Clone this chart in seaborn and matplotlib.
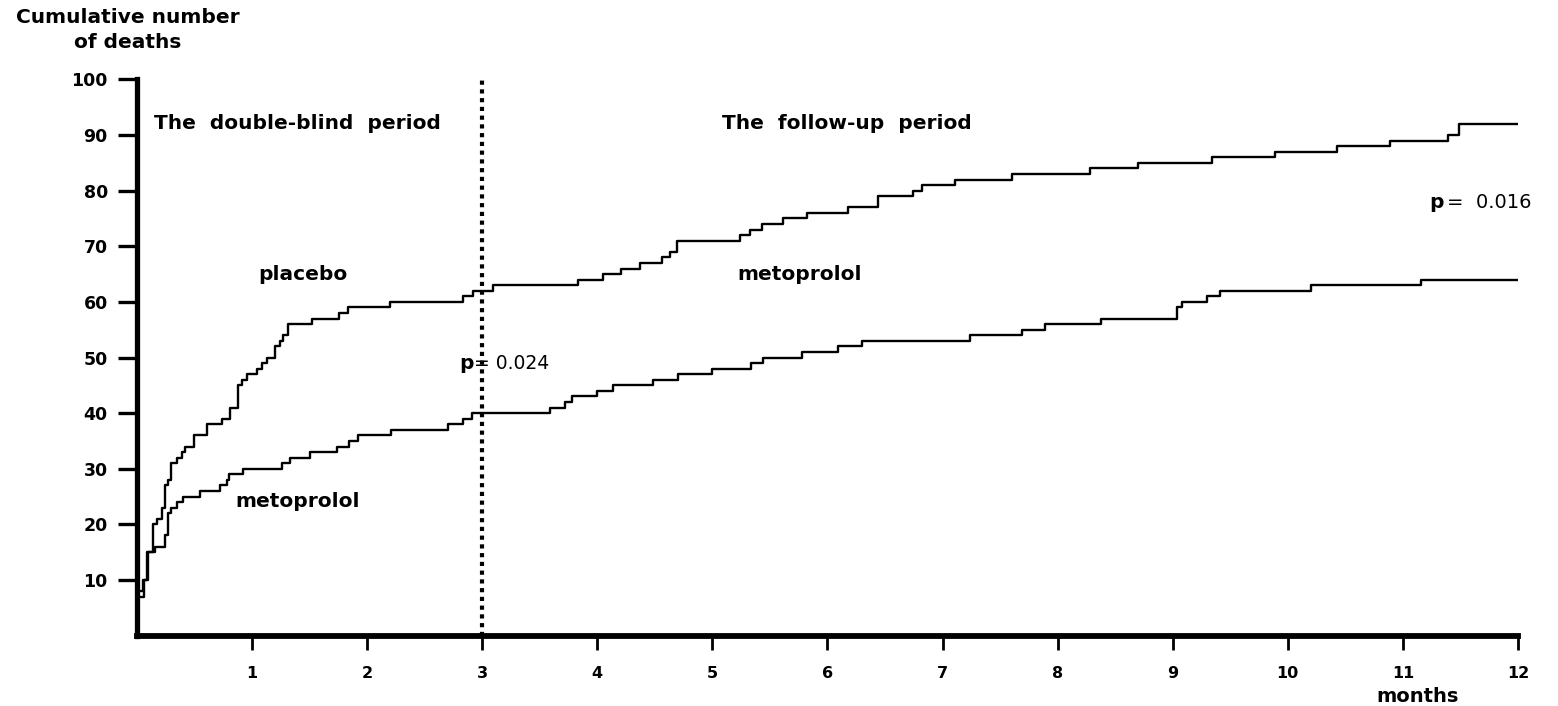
import matplotlib
matplotlib.use("Agg")
import matplotlib.pyplot as plt
import seaborn as sns
import pandas as pd

# ---- data ----
placebo_months = [0, 0.01, 0.05, 0.09, 0.14, 0.17, 0.22, 0.24, 0.27, 0.30, 0.35, 0.39, 0.42,
                  0.50, 0.61, 0.74, 0.81, 0.88, 0.91, 0.96, 1.04, 1.09, 1.13, 1.20, 1.24,
                  1.27, 1.31, 1.52, 1.76, 1.83, 2.20, 2.83, 2.92, 3.09, 3.83, 4.05, 4.21,
                  4.37, 4.56, 4.63, 4.69, 5.24, 5.33, 5.43, 5.61, 5.82, 6.18, 6.44, 6.74,
                  6.82, 7.11, 7.60, 8.28, 8.70, 9.34, 9.89, 10.43, 10.89, 11.39, 11.49, 12.0]
placebo_deaths = [0, 8, 10, 15, 20, 21, 23, 27, 28, 31, 32, 33, 34,
                  36, 38, 39, 41, 45, 46, 47, 48, 49, 50, 52, 53,
                  54, 56, 57, 58, 59, 60, 61, 62, 63, 64, 65, 66,
                  67, 68, 69, 71, 72, 73, 74, 75, 76, 77, 79, 80,
                  81, 82, 83, 84, 85, 86, 87, 88, 89, 90, 92, 92]

metoprolol_months = [0, 0.01, 0.06, 0.10, 0.16, 0.24, 0.27, 0.30, 0.35, 0.40, 0.55, 0.72,
                     0.78, 0.80, 0.92, 1.26, 1.33, 1.50, 1.74, 1.84, 1.92, 2.21, 2.70,
                     2.83, 2.91, 3.59, 3.72, 3.78, 4.00, 4.14, 4.48, 4.70, 5.00, 5.34,
                     5.44, 5.78, 6.09, 6.30, 7.24, 7.69, 7.89, 8.38, 9.04, 9.08, 9.30,
                     9.41, 10.20, 11.16, 12.0]
metoprolol_deaths = [0, 7, 10, 15, 16, 18, 22, 23, 24, 25, 26, 27,
                     28, 29, 30, 31, 32, 33, 34, 35, 36, 37, 38,
                     39, 40, 41, 42, 43, 44, 45, 46, 47, 48, 49,
                     50, 51, 52, 53, 54, 55, 56, 57, 59, 60, 61,
                     62, 63, 64, 64]

x_ticks = [1, 2, 3, 4, 5, 6, 7, 8, 9, 10, 11, 12]
y_ticks = [10, 20, 30, 40, 50, 60, 70, 80, 90, 100]

df = pd.concat([
    pd.DataFrame({"month": placebo_months, "deaths": placebo_deaths, "group": "placebo"}),
    pd.DataFrame({"month": metoprolol_months, "deaths": metoprolol_deaths, "group": "metoprolol"}),
], ignore_index=True)

sns.set_style("ticks")
plt.rcParams["font.family"] = ["DejaVu Sans"]
for k in ["text.color", "axes.edgecolor", "xtick.color", "ytick.color", "axes.labelcolor"]:
    plt.rcParams[k] = "black"

fig = plt.figure(figsize=(15.58, 7.06), dpi=100)
ax = fig.add_axes([0.0879, 0.0997, 0.8864, 0.7878])

sns.lineplot(data=df, x="month", y="deaths", hue="group",
             palette={"placebo": "black", "metoprolol": "black"},
             estimator=None, sort=False, legend=False,
             drawstyle="steps-post", linewidth=1.7, ax=ax)

ax.set_xlim(0, 12)
ax.set_ylim(0, 100)

# dotted separator at 3 months
ax.axvline(3, ymin=0, ymax=1, color="black", lw=3, linestyle=(0, (1, 1.1)),
           dash_capstyle="butt")

# spines
for s in ["top", "right"]:
    ax.spines[s].set_visible(False)
ax.spines["left"].set_linewidth(3.8)
ax.spines["bottom"].set_linewidth(4.2)
ax.spines["left"].set_capstyle("projecting")
ax.spines["bottom"].set_capstyle("projecting")

ax.set_xticks(x_ticks)
ax.set_xticklabels([str(t) for t in x_ticks], fontsize=11.5, fontweight="bold")
ax.set_yticks(y_ticks)
ax.set_yticklabels([str(t) for t in y_ticks], fontsize=12.5, fontweight="bold")
ax.tick_params(axis="x", direction="out", length=10, width=2, pad=12)
ax.tick_params(axis="y", direction="out", length=14, width=2.4, pad=7)
ax.set_xlabel("")
ax.set_ylabel("")

# annotations
txt = dict(fontsize=14.5, fontweight="bold", color="black")
ax.text(0.15, 92, "The  double-blind  period", va="center", ha="left", **txt)
ax.text(5.08, 92, "The  follow-up  period", va="center", ha="left", **txt)
ax.text(1.44, 65, "placebo", va="center", ha="center", **txt)
ax.text(1.40, 24.2, "metoprolol", va="center", ha="center", **txt)
ax.text(5.76, 65, "metoprolol", va="center", ha="center", **txt)

ax.text(2.80, 49, "p", va="center", ha="left", fontsize=14.5, fontweight="bold")
ax.annotate("= 0.024", xy=(2.80, 49), xytext=(11, 0), textcoords="offset points",
            va="center", ha="left", fontsize=13.5)
ax.text(11.23, 77.8, "p", va="center", ha="left", fontsize=14.5, fontweight="bold",
        clip_on=False)
ax.annotate("=  0.016", xy=(11.23, 77.8), xytext=(13, 0), textcoords="offset points",
            va="center", ha="left", fontsize=14, annotation_clip=False)

fig.text(128 / 1558, 1 - 8 / 706, "Cumulative number\nof deaths", ha="center", va="top",
         fontsize=14.5, fontweight="bold", linespacing=1.4)
fig.text(1418 / 1558, 1 - 697 / 706, "months", ha="center", va="center",
         fontsize=14, fontweight="bold")

fig.savefig("out.png", dpi=100, facecolor="white")
